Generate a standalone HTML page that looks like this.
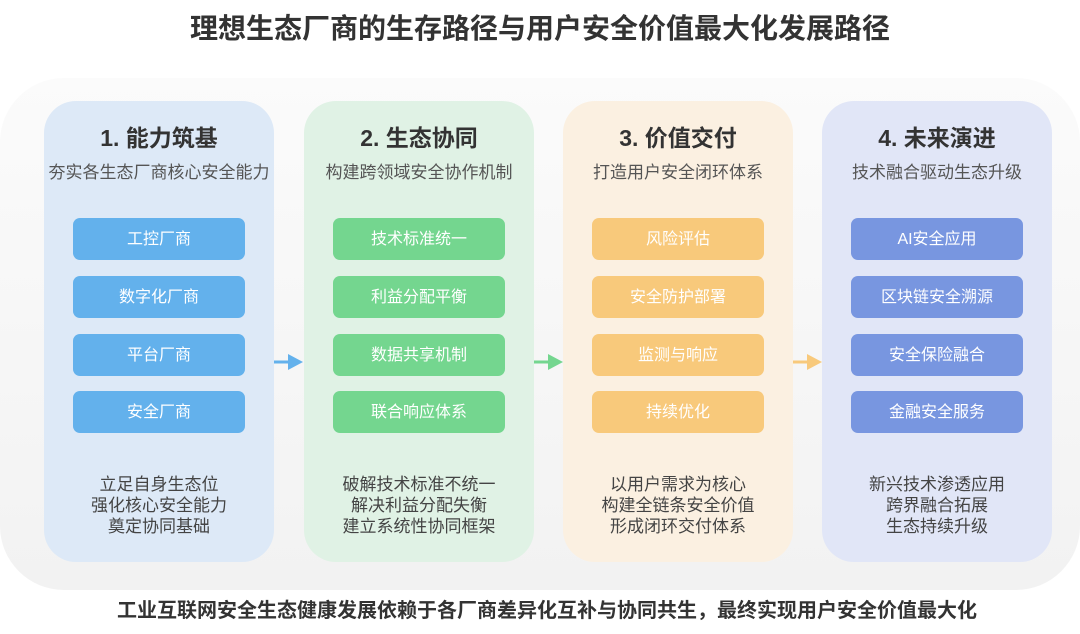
<!DOCTYPE html>
<html><head><meta charset="utf-8"><style>
*{margin:0;padding:0;box-sizing:border-box}
body{width:1080px;height:634px;background:#fff;position:relative;overflow:hidden;font-family:"Liberation Sans","Noto Sans CJK SC",sans-serif}
.t{position:absolute;left:0;width:1080px;text-align:center;font-weight:bold;color:#333}
.panel{position:absolute;left:0;top:78px;width:1080px;height:512px;border-radius:64px;background:linear-gradient(#fbfbfb,#f2f2f2)}
.col{position:absolute;top:101px;width:230px;height:461px;border-radius:32px}
.col h2{position:absolute;left:0;width:100%;text-align:center;font-size:23px;line-height:28px;color:#333;font-weight:bold}
.col .s{position:absolute;left:0;width:100%;text-align:center;font-size:17px;line-height:22px;color:#555}
.b{position:absolute;left:29px;width:172px;height:42px;border-radius:7px;color:#fff;font-size:16px;line-height:43px;text-align:center}
.f{position:absolute;left:0;width:100%;text-align:center;font-size:17px;line-height:21px;color:#444}
</style></head><body>
<div class="t" style="top:11px;font-size:28px;line-height:36px">理想生态厂商的生存路径与用户安全价值最大化发展路径</div>
<div class="panel"></div>

<div class="col" style="left:44px;background:#dde9f7">
<h2 style="top:23px">1. 能力筑基</h2><div class="s" style="top:61px">夯实各生态厂商核心安全能力</div>
<div class="b" style="top:117px;background:#63b1ec">工控厂商</div>
<div class="b" style="top:175px;background:#63b1ec">数字化厂商</div>
<div class="b" style="top:233px;background:#63b1ec">平台厂商</div>
<div class="b" style="top:290px;background:#63b1ec">安全厂商</div>
<div class="f" style="top:373px">立足自身生态位<br>强化核心安全能力<br>奠定协同基础</div>
</div>

<div class="col" style="left:304px;background:#e0f2e5">
<h2 style="top:23px">2. 生态协同</h2><div class="s" style="top:61px">构建跨领域安全协作机制</div>
<div class="b" style="top:117px;background:#74d68f">技术标准统一</div>
<div class="b" style="top:175px;background:#74d68f">利益分配平衡</div>
<div class="b" style="top:233px;background:#74d68f">数据共享机制</div>
<div class="b" style="top:290px;background:#74d68f">联合响应体系</div>
<div class="f" style="top:373px">破解技术标准不统一<br>解决利益分配失衡<br>建立系统性协同框架</div>
</div>

<div class="col" style="left:563px;background:#fbf0e1">
<h2 style="top:23px">3. 价值交付</h2><div class="s" style="top:61px">打造用户安全闭环体系</div>
<div class="b" style="top:117px;background:#f8c97b">风险评估</div>
<div class="b" style="top:175px;background:#f8c97b">安全防护部署</div>
<div class="b" style="top:233px;background:#f8c97b">监测与响应</div>
<div class="b" style="top:290px;background:#f8c97b">持续优化</div>
<div class="f" style="top:373px">以用户需求为核心<br>构建全链条安全价值<br>形成闭环交付体系</div>
</div>

<div class="col" style="left:822px;background:#e1e6f7">
<h2 style="top:23px">4. 未来演进</h2><div class="s" style="top:61px">技术融合驱动生态升级</div>
<div class="b" style="top:117px;background:#7896e0">AI安全应用</div>
<div class="b" style="top:175px;background:#7896e0">区块链安全溯源</div>
<div class="b" style="top:233px;background:#7896e0">安全保险融合</div>
<div class="b" style="top:290px;background:#7896e0">金融安全服务</div>
<div class="f" style="top:373px">新兴技术渗透应用<br>跨界融合拓展<br>生态持续升级</div>
</div>

<svg style="position:absolute;left:0;top:0" width="1080" height="634">
<g stroke-width="3" fill="none">
<line x1="274" y1="362" x2="292" y2="362" stroke="#63b1ec"/>
<line x1="534" y1="362" x2="552" y2="362" stroke="#74d68f"/>
<line x1="793" y1="362" x2="811" y2="362" stroke="#f8c97b"/>
</g>
<polygon points="288,354 303,362 288,370" fill="#63b1ec"/>
<polygon points="548,354 563,362 548,370" fill="#74d68f"/>
<polygon points="807,354 822,362 807,370" fill="#f8c97b"/>
</svg>

<div class="t" style="top:598px;left:7px;font-size:20px;line-height:26px">工业互联网安全生态健康发展依赖于各厂商差异化互补与协同共生，最终实现用户安全价值最大化</div>
</body></html>
